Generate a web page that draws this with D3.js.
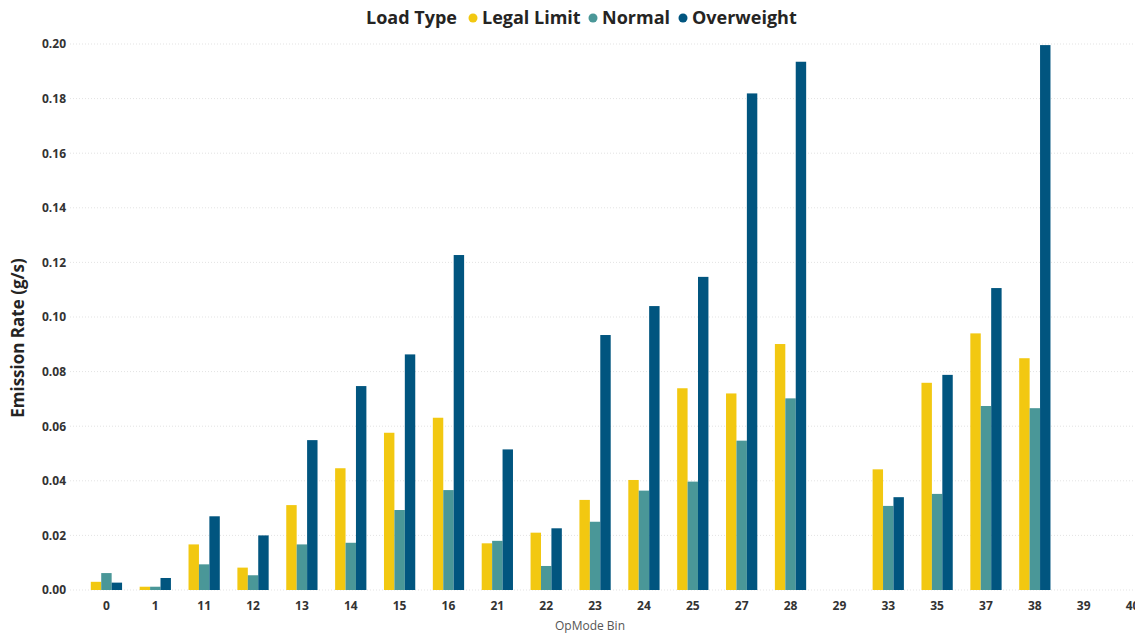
<!DOCTYPE html>
<html>
<head>
<meta charset="utf-8">
<script src="https://cdn.jsdelivr.net/npm/d3@7"></script>
<style>
  body { margin: 0; background: #fff; }
  svg { display: block; font-family: "Open Sans", "Noto Sans", sans-serif; }
  .tick text { font-weight: 700; fill: #333; }
</style>
</head>
<body>
<div id="chart"></div>
<script>
// OpMode bins on the x axis
let bins = ["0", "1", "11", "12", "13", "14", "15", "16", "21", "22", "23", "24",
            "25", "27", "28", "29", "33", "35", "37", "38", "39", "40"];

// emission rates (g/s), null = no bar
let legalLimit = [0.003, 0.0012, 0.0167, 0.0082, 0.0311, 0.0446, 0.0576, 0.0631, 0.0171, 0.021, 0.033, 0.0403,
                  0.0739, 0.072, 0.0901, null, 0.0442, 0.0759, 0.094, 0.0849, null, null];
let normal     = [0.0062, 0.0012, 0.0094, 0.0054, 0.0167, 0.0173, 0.0293, 0.0366, 0.018, 0.0088, 0.025, 0.0364,
                  0.0397, 0.0547, 0.0702, null, 0.0308, 0.0352, 0.0674, 0.0666, null, null];
let overweight = [0.0027, 0.0044, 0.027, 0.020, 0.0549, 0.0747, 0.0863, 0.1227, 0.0515, 0.0226, 0.0934, 0.104,
                  0.1147, 0.1819, 0.1935, null, 0.034, 0.0788, 0.1106, 0.1996, null, null];

let seriesNames = ["Legal Limit", "Normal", "Overweight"];
let colors = ["#F2C811", "#4A9798", "#01557F"];
let yTicks = [0, 0.02, 0.04, 0.06, 0.08, 0.10, 0.12, 0.14, 0.16, 0.18, 0.20];

function makeGraph() {
  let w = 1135, h = 633;
  let svg = d3.select("#chart").append("svg")
              .attr("width", w).attr("height", h);

  let x = d3.scaleBand().domain(bins).range([82, 1157])
            .paddingInner(0.36).paddingOuter(0.18);
  let xs = d3.scaleBand().domain(seriesNames).range([0, x.bandwidth()]);
  let y = d3.scaleLinear().domain([0, 0.2]).range([590, 44]);

  // gridlines
  svg.append("g").selectAll("line")
     .data(yTicks).enter().append("line")
     .attr("x1", 70).attr("x2", w)
     .attr("y1", d => y(d)).attr("y2", d => y(d))
     .attr("stroke", "#e3e3e3").attr("stroke-width", 1)
     .attr("stroke-dasharray", "1,2");

  // y axis labels
  let yAxis = svg.append("g")
     .attr("transform", "translate(66,0)")
     .call(d3.axisLeft(y).tickValues(yTicks).tickFormat(d3.format(".2f")).tickSize(0).tickPadding(0));
  yAxis.select(".domain").remove();
  yAxis.selectAll("text").attr("font-size", 12).attr("font-family", "Open Sans, sans-serif");

  // x axis labels
  let xAxis = svg.append("g")
     .attr("transform", "translate(0,598)")
     .call(d3.axisBottom(x).tickSize(0).tickPadding(3));
  xAxis.select(".domain").remove();
  xAxis.selectAll("text").attr("font-size", 12).attr("font-family", "Open Sans, sans-serif");

  // bars
  let table = bins.map((b, i) => ({bin: b, vals: [legalLimit[i], normal[i], overweight[i]]}));
  let groups = svg.append("g").selectAll("g")
     .data(table).enter().append("g")
     .attr("transform", d => "translate(" + x(d.bin) + ",0)");
  groups.selectAll("rect")
     .data(d => d.vals.map((v, j) => ({v: v, s: seriesNames[j], c: colors[j]})).filter(e => e.v !== null))
     .enter().append("rect")
     .attr("x", d => xs(d.s))
     .attr("width", xs.bandwidth())
     .attr("y", d => y(d.v))
     .attr("height", d => y(0) - y(d.v))
     .attr("fill", d => d.c);

  // axis titles
  svg.append("text")
     .attr("transform", "translate(24,338) rotate(-90)")
     .attr("text-anchor", "middle")
     .attr("font-size", 17).attr("font-weight", 700).attr("fill", "#252423")
     .text("Emission Rate (g/s)");

  svg.append("text")
     .attr("x", 590).attr("y", 630)
     .attr("text-anchor", "middle")
     .attr("font-size", 12).attr("fill", "#555")
     .text("OpMode Bin");

  // legend
  let lg = svg.append("g").attr("font-size", 18).attr("font-weight", 700).attr("fill", "#252423");
  lg.append("text").attr("x", 366).attr("y", 24).text("Load Type");
  let lx = [473, 593, 683];
  seriesNames.forEach((s, i) => {
    lg.append("circle").attr("cx", lx[i]).attr("cy", 18).attr("r", 4.5).attr("fill", colors[i]);
    lg.append("text").attr("x", lx[i] + 9).attr("y", 24).text(s);
  });
}

window.onload = function() {
  makeGraph();
};
</script>
</body>
</html>
